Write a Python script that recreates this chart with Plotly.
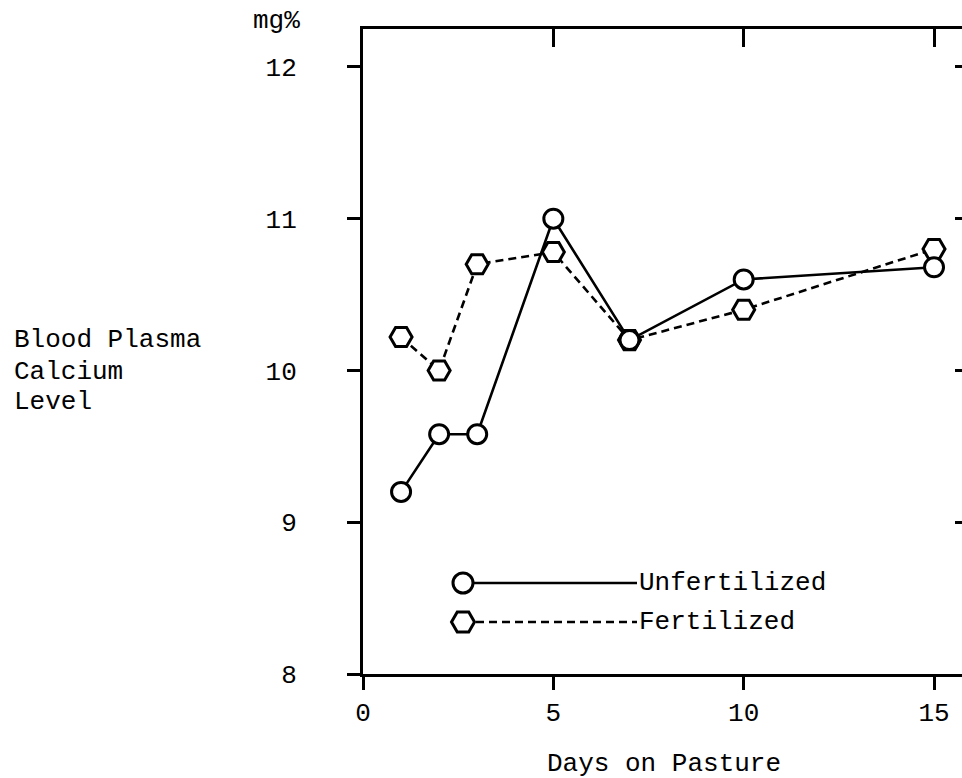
import plotly.graph_objects as go

# ---- data ----
days = [1, 2, 3, 5, 7, 10, 15]
unfertilized = [9.2, 9.58, 9.58, 11.0, 10.2, 10.6, 10.68]
fertilized = [10.22, 10.0, 10.7, 10.78, 10.2, 10.4, 10.8]
x_ticks = [0, 5, 10, 15]
y_ticks = [8, 9, 10, 11, 12]
y_ticks_right = [9, 10, 11, 12]
series_names = ["Unfertilized", "Fertilized"]
y_title_lines = ["Blood Plasma", "Calcium", "Level"]
x_title = "Days on Pasture"
y_unit = "mg%"

W, H = 962, 778
L, R, T, B = 363, 0, 29, 104
PW, PH = W - L - R, H - T - B

def px(x):  # screen px -> paper
    return (x - L) / PW

def py(y):  # screen px -> paper
    return (H - B - y) / PH

FONT = "Liberation Mono, Courier New, monospace"
FS = 26

fig = go.Figure()
fig.add_trace(go.Scatter(
    x=days, y=fertilized, mode="lines+markers", name=series_names[1],
    line=dict(color="black", width=2.6, dash="8px,5px"),
    marker=dict(symbol="hexagon2", size=22, color="white",
                line=dict(color="black", width=3)),
    showlegend=False, cliponaxis=False))
fig.add_trace(go.Scatter(
    x=days, y=unfertilized, mode="lines+markers", name=series_names[0],
    line=dict(color="black", width=2.6),
    marker=dict(symbol="circle", size=19, color="white",
                line=dict(color="black", width=3)),
    showlegend=False, cliponaxis=False))

xr = [0, 15.735]
yr = [8, 12.25]

fig.update_layout(
    width=W, height=H,
    margin=dict(l=L, r=R, t=T, b=B, pad=0),
    paper_bgcolor="white", plot_bgcolor="white",
    font=dict(family=FONT, size=FS, color="black"),
    xaxis=dict(range=xr, tickvals=x_ticks, ticks="outside", ticklen=13,
               tickwidth=2.5, tickcolor="black", showline=True, linewidth=3,
               linecolor="black", showgrid=False, zeroline=False,
               ticklabelstandoff=0, tickfont=dict(family=FONT, size=FS)),
    xaxis2=dict(range=xr, overlaying="x", side="top", matches="x",
                tickvals=x_ticks[1:], ticks="inside", ticklen=18, tickwidth=2.5,
                tickcolor="black", showline=True, linewidth=3, linecolor="black",
                showticklabels=False, showgrid=False, zeroline=False),
    yaxis=dict(range=yr, tickvals=y_ticks, ticks="outside", ticklen=13,
               tickwidth=2.5, tickcolor="black", showline=True, linewidth=3,
               linecolor="black", showgrid=False, zeroline=False,
               ticklabelstandoff=45, tickfont=dict(family=FONT, size=FS)),
    yaxis2=dict(range=yr, overlaying="y", side="right", matches="y",
                tickvals=y_ticks_right, ticks="inside", ticklen=7, tickwidth=2.5,
                tickcolor="black", showline=False, showticklabels=False,
                showgrid=False, zeroline=False),
)
# invisible trace to activate the secondary axes
fig.add_trace(go.Scatter(x=[None], y=[None], xaxis="x2", yaxis="y2",
                         showlegend=False, hoverinfo="skip"))

ann = []
ann.append(dict(text=x_title, x=px(664), y=py(764), xref="paper", yref="paper",
                xanchor="center", yanchor="middle", showarrow=False))
for i, line in enumerate(y_title_lines):
    ann.append(dict(text=line, x=px(12), y=py([340, 372, 402][i]),
                    xref="paper", yref="paper", xanchor="left",
                    yanchor="middle", showarrow=False))
ann.append(dict(text=y_unit, x=px(302), y=py(21), xref="paper", yref="paper",
                xanchor="right", yanchor="middle", showarrow=False))
# legend texts
ann.append(dict(text=series_names[0], x=px(637), y=py(583), xref="paper",
                yref="paper", xanchor="left", yanchor="middle", showarrow=False))
ann.append(dict(text=series_names[1], x=px(637), y=py(622), xref="paper",
                yref="paper", xanchor="left", yanchor="middle", showarrow=False))
fig.update_layout(annotations=ann)

shapes = []
# legend key: circle + solid line
shapes.append(dict(type="circle", xref="paper", yref="paper",
                   xsizemode="pixel", ysizemode="pixel",
                   xanchor=px(463), yanchor=py(583),
                   x0=-10, x1=10, y0=-10, y1=10,
                   line=dict(color="black", width=3), fillcolor="white"))
shapes.append(dict(type="line", xref="paper", yref="paper",
                   x0=px(474), x1=px(637), y0=py(583), y1=py(583),
                   line=dict(color="black", width=2.6)))
# legend key: hexagon + dashed line
r = 11.5
hx = r * 3 ** 0.5 / 2
hexpath = (f"M{-r/2},{hx} L{r/2},{hx} L{r},0 L{r/2},{-hx} "
           f"L{-r/2},{-hx} L{-r},0 Z")
shapes.append(dict(type="path", xref="paper", yref="paper",
                   xsizemode="pixel", ysizemode="pixel",
                   xanchor=px(463), yanchor=py(622), path=hexpath,
                   line=dict(color="black", width=3), fillcolor="white"))
shapes.append(dict(type="line", xref="paper", yref="paper",
                   x0=px(476), x1=px(637), y0=py(622), y1=py(622),
                   line=dict(color="black", width=2.6, dash="8px,5px")))
fig.update_layout(shapes=shapes)

# remove the default 8px page margin so the figure fills the window exactly
fig.write_html("out.html",
               config={"displayModeBar": False},
               post_script="document.body.style.margin='0';"
                           "document.body.style.overflow='hidden';")
